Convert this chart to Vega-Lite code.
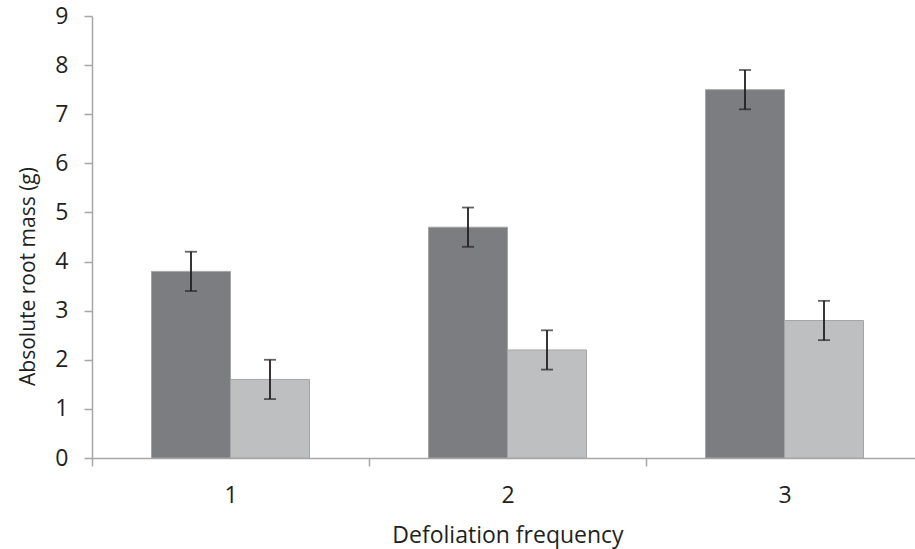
{
  "$schema": "https://vega.github.io/schema/vega-lite/v6.json",
  "width": 823,
  "height": 442,
  "autosize": {"type": "none"},
  "padding": {"left": 92, "top": 16, "right": 0, "bottom": 91},
  "background": "white",
  "config": {
    "view": {"stroke": null},
    "font": "Open Sans",
    "axis": {
      "domainColor": "#a6a6a6",
      "domainWidth": 1.5,
      "tickColor": "#a6a6a6",
      "tickWidth": 1.5,
      "tickSize": 8,
      "grid": false,
      "labelFont": "Open Sans",
      "labelFontSize": 23,
      "labelColor": "#231f20",
      "titleFont": "Open Sans",
      "titleFontWeight": "normal",
      "titleColor": "#231f20"
    }
  },
  "data": {
    "values": [
      {"freq": "1", "series": "a", "mean": 3.8, "lo": 3.4, "hi": 4.2},
      {"freq": "1", "series": "b", "mean": 1.6, "lo": 1.2, "hi": 2.0},
      {"freq": "2", "series": "a", "mean": 4.7, "lo": 4.3, "hi": 5.1},
      {"freq": "2", "series": "b", "mean": 2.2, "lo": 1.8, "hi": 2.6},
      {"freq": "3", "series": "a", "mean": 7.5, "lo": 7.1, "hi": 7.9},
      {"freq": "3", "series": "b", "mean": 2.8, "lo": 2.4, "hi": 3.2}
    ]
  },
  "encoding": {
    "x": {
      "field": "freq",
      "type": "nominal",
      "scale": {"range": [0, 831], "paddingInner": 0, "paddingOuter": 0},
      "axis": {
        "title": "Defoliation frequency",
        "titleFontSize": 23,
        "labelAngle": 0,
        "tickBand": "extent",
        "labelBaseline": "alphabetic",
        "labelPadding": 36,
        "titleBaseline": "alphabetic",
        "titleY": 84
      }
    },
    "xOffset": {"field": "series", "scale": {"paddingInner": 0, "paddingOuter": 0.753}}
  },
  "layer": [
    {
      "mark": {"type": "bar", "stroke": "#a5a5a5", "strokeWidth": 1},
      "encoding": {
        "y": {
          "field": "mean",
          "type": "quantitative",
          "title": "Absolute root mass (g)",
          "scale": {"domain": [0, 9]},
          "axis": {
            "values": [0, 1, 2, 3, 4, 5, 6, 7, 8, 9],
            "labelPadding": 16,
            "titleFontSize": 21,
            "titleBaseline": "alphabetic",
            "titleX": -58,
            "titleY": 260
          }
        },
        "color": {
          "field": "series",
          "type": "nominal",
          "scale": {"domain": ["a", "b"], "range": ["#7c7d81", "#bebfc1"]},
          "legend": null
        }
      }
    },
    {
      "mark": {"type": "rule", "color": "#231f20", "strokeWidth": 1.8},
      "encoding": {
        "y": {"field": "lo", "type": "quantitative", "title": "Absolute root mass (g)"},
        "y2": {"field": "hi"}
      }
    },
    {
      "mark": {"type": "tick", "color": "#231f20", "size": 12, "thickness": 1.8},
      "encoding": {
        "y": {"field": "lo", "type": "quantitative", "title": "Absolute root mass (g)"}
      }
    },
    {
      "mark": {"type": "tick", "color": "#231f20", "size": 12, "thickness": 1.8},
      "encoding": {
        "y": {"field": "hi", "type": "quantitative", "title": "Absolute root mass (g)"}
      }
    }
  ]
}
